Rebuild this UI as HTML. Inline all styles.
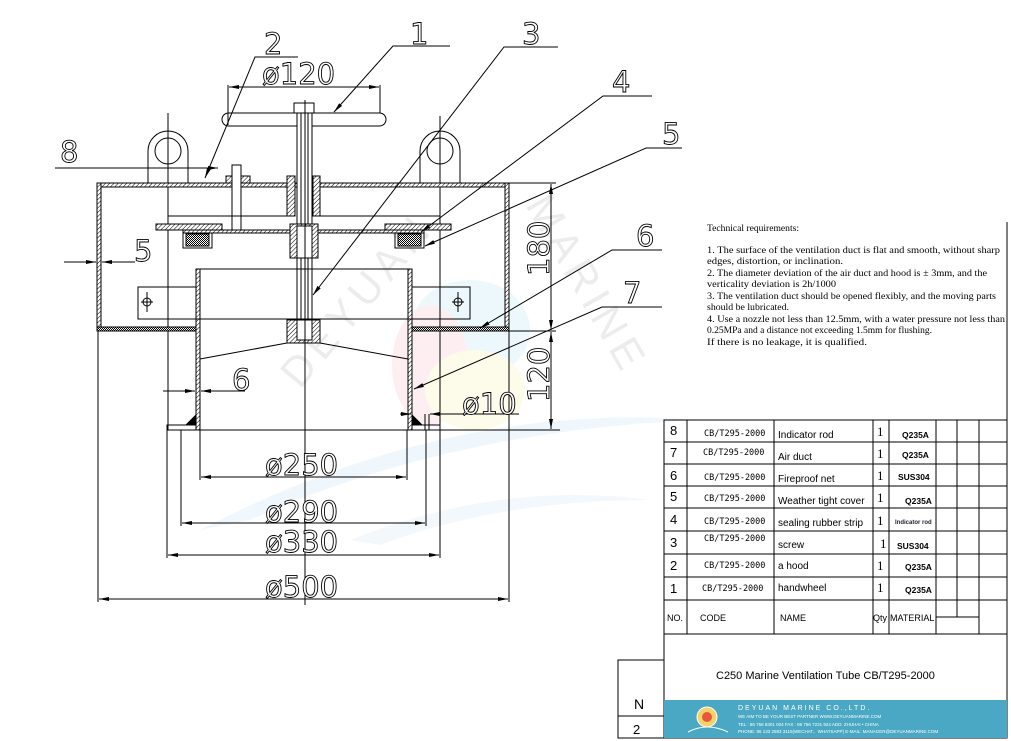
<!DOCTYPE html>
<html><head><meta charset="utf-8"><style>
html,body{margin:0;padding:0;background:#fff;}
svg{display:block;}
.t{font-family:"Liberation Sans",sans-serif;font-weight:normal;}
.tr{font-family:"Liberation Serif",serif;font-size:9px;fill:#000;}
.big{font-family:"DejaVu Sans","Liberation Sans",sans-serif;font-size:29px;fill:#fff;stroke:#000;stroke-width:0.9;}
</style></head><body>
<svg width="1011" height="741" viewBox="0 0 1011 741" xmlns="http://www.w3.org/2000/svg">
<defs>
<pattern id="h" width="3" height="3" patternUnits="userSpaceOnUse" patternTransform="rotate(45)">
<rect width="3" height="3" fill="#fff"/><line x1="0" y1="0" x2="0" y2="3" stroke="#000" stroke-width="1"/></pattern>
<pattern id="m" width="2" height="2" patternUnits="userSpaceOnUse"><rect width="2" height="2" fill="#fff"/><rect width="1" height="1" fill="#000"/><rect x="1" y="1" width="1" height="1" fill="#000"/></pattern>
<marker id="a" viewBox="0 0 10 4" refX="10" refY="2" markerWidth="10" markerHeight="4" orient="auto" markerUnits="userSpaceOnUse"><path d="M0,0 L10,2 L0,4z" fill="#000"/></marker>
<marker id="b" viewBox="0 0 10 4" refX="0" refY="2" markerWidth="10" markerHeight="4" orient="auto" markerUnits="userSpaceOnUse"><path d="M10,0 L0,2 L10,4z" fill="#000"/></marker>
</defs>
<rect width="1011" height="741" fill="#fff"/>
<!-- watermark -->
<g opacity="0.55">
<ellipse cx="470" cy="330" rx="60" ry="50" fill="#dff3fb"/>
<ellipse cx="430" cy="365" rx="38" ry="60" fill="#fde3e6"/>
<ellipse cx="475" cy="390" rx="50" ry="40" fill="#fdf8d8"/>
<path d="M200 530 Q450 400 700 420 Q450 430 250 520z" fill="#e4f2fb"/>
<path d="M350 540 Q500 480 650 500 Q500 500 380 545z" fill="#e8f4fb"/>
</g>
<text x="0" y="0" transform="translate(300,390) rotate(-50)" font-family="Liberation Sans" font-size="42" fill="#ececec" letter-spacing="6">DEYUAN</text>
<text x="0" y="0" transform="translate(525,205) rotate(60)" font-family="Liberation Sans" font-size="42" fill="#ececec" letter-spacing="6">MARINE</text>

<g stroke="#000" stroke-width="1" fill="none">
<path d="M148 183 V151 A20 20 0 0 1 188 151 V183"/><circle cx="168" cy="151" r="13"/>
<path d="M420 183 V151 A20 20 0 0 1 460 151 V183"/><circle cx="440" cy="151" r="13"/>
<line x1="168" y1="113" x2="168" y2="430"/><line x1="440" y1="116" x2="440" y2="430"/>
<rect x="97" y="183" width="412" height="4" fill="url(#h)"/>
<rect x="97" y="183" width="4" height="148" fill="url(#h)"/>
<rect x="505" y="183" width="4" height="148" fill="url(#h)"/>
<rect x="97" y="327" width="100" height="4" fill="url(#m)"/>
<rect x="412" y="327" width="97" height="4" fill="url(#m)"/>
<rect x="226" y="176" width="24" height="7" fill="url(#h)"/>
<rect x="232" y="165" width="9" height="65" fill="#fff"/>
<rect x="222" y="113" width="164" height="13" rx="6.5" fill="#fff"/>
<rect x="294" y="103" width="20" height="10" fill="#fff"/>
<line x1="290" y1="113" x2="318" y2="113"/>
<rect x="297" y="113" width="15" height="230" fill="#fff"/>
<line x1="301" y1="113" x2="301" y2="343"/><line x1="308" y1="113" x2="308" y2="343"/>
<rect x="287" y="176" width="8" height="40" fill="url(#h)"/>
<rect x="313" y="176" width="7" height="40" fill="url(#h)"/>
<line x1="168" y1="216" x2="287" y2="216"/><line x1="320" y1="216" x2="440" y2="216"/>
<rect x="183" y="230" width="241" height="3" fill="url(#h)"/>
<rect x="156" y="224" width="66" height="6" fill="url(#h)"/>
<rect x="385" y="224" width="66" height="6" fill="url(#h)"/>
<path d="M183 233 V248 H212 V233"/><rect x="186" y="234" width="23" height="12" fill="url(#m)"/>
<path d="M395 233 V248 H424 V233"/><rect x="398" y="234" width="23" height="12" fill="url(#m)"/>
<rect x="290" y="224" width="28" height="34" fill="url(#h)"/><rect x="297" y="226" width="15" height="32" fill="#fff"/>
<rect x="196" y="269" width="4" height="161" fill="url(#h)"/>
<rect x="408" y="269" width="4" height="161" fill="url(#h)"/>
<line x1="200" y1="269" x2="408" y2="269"/>
<rect x="138" y="287" width="58" height="32"/><rect x="412" y="287" width="58" height="32"/>
<line x1="138" y1="319" x2="470" y2="319"/>
<circle cx="147" cy="302" r="4"/><line x1="141" y1="302" x2="153" y2="302"/><line x1="147" y1="292" x2="147" y2="312"/>
<circle cx="458" cy="302" r="4"/><line x1="452" y1="302" x2="464" y2="302"/><line x1="458" y1="292" x2="458" y2="312"/>
<rect x="287" y="320" width="33" height="23" fill="url(#h)"/><rect x="297" y="320" width="15" height="20" fill="#fff"/>
<line x1="200" y1="359" x2="287" y2="343"/><line x1="320" y1="343" x2="408" y2="359"/>
<line x1="305" y1="100" x2="305" y2="605"/>
<path d="M167 430 V425 H196 M412 425 H440 V430"/><line x1="167" y1="430" x2="560" y2="430"/>
<path d="M186 425 L196 415 V425z M422 425 L412 415 V425z" fill="#000"/>
<line x1="425" y1="414" x2="425" y2="430"/><line x1="429" y1="414" x2="429" y2="430"/>
<line x1="200" y1="430" x2="200" y2="480"/><line x1="407" y1="430" x2="407" y2="480"/>
<line x1="201" y1="477" x2="406" y2="477" marker-start="url(#b)" marker-end="url(#a)"/>
<line x1="181" y1="430" x2="181" y2="526"/><line x1="426" y1="430" x2="426" y2="526"/>
<line x1="182" y1="523" x2="425" y2="523" marker-start="url(#b)" marker-end="url(#a)"/>
<line x1="167" y1="430" x2="167" y2="558"/><line x1="440" y1="430" x2="440" y2="558"/>
<line x1="168" y1="555" x2="439" y2="555" marker-start="url(#b)" marker-end="url(#a)"/>
<line x1="98" y1="331" x2="98" y2="602"/><line x1="509" y1="331" x2="509" y2="602"/>
<line x1="99" y1="599" x2="508" y2="599" marker-start="url(#b)" marker-end="url(#a)"/>
<line x1="509" y1="183" x2="556" y2="183"/><line x1="509" y1="331" x2="556" y2="331"/>
<line x1="551" y1="184" x2="551" y2="330" marker-start="url(#b)" marker-end="url(#a)"/>
<line x1="551" y1="332" x2="551" y2="429" marker-start="url(#b)" marker-end="url(#a)"/>
<line x1="400" y1="414" x2="411" y2="414" marker-end="url(#a)"/>
<line x1="519" y1="414" x2="430" y2="414" marker-end="url(#a)"/>
<line x1="228" y1="85" x2="228" y2="125"/><line x1="380" y1="85" x2="380" y2="113"/>
<line x1="229" y1="87" x2="379" y2="87" marker-start="url(#b)" marker-end="url(#a)"/>
<line x1="64" y1="262" x2="96" y2="262" marker-end="url(#a)"/><line x1="135" y1="262" x2="102" y2="262" marker-end="url(#a)"/>
<line x1="163" y1="391" x2="195" y2="391" marker-end="url(#a)"/><line x1="245" y1="391" x2="201" y2="391" marker-end="url(#a)"/>
<path d="M450 46 H393 L334 112" marker-end="url(#a)"/>
<path d="M298 57 H255 L205 178" marker-end="url(#a)"/>
<path d="M558 47 H504 L313 295" marker-end="url(#a)"/>
<path d="M652 96 H603 L421 232" marker-end="url(#a)"/>
<path d="M682 148 H646 L425 246" marker-end="url(#a)"/>
<path d="M662 250 H612 L480 328" marker-end="url(#a)"/>
<path d="M662 307 H602 L414 389" marker-end="url(#a)"/>
<path d="M55 168 H218" marker-end="url(#a)"/>
</g>
<g class="big">
<text x="410" y="44">1</text><text x="264" y="54">2</text><text x="522" y="44">3</text>
<text x="612" y="92">4</text><text x="662" y="144">5</text><text x="636" y="246">6</text><text x="623" y="303">7</text>
<text x="60" y="162">8</text><text x="134" y="261">5</text><text x="232" y="390">6</text>
<text x="262" y="84">ø120</text><text x="462" y="414">ø10</text>
<text x="265" y="475">ø250</text><text x="265" y="522">ø290</text><text x="265" y="552">ø330</text><text x="265" y="597">ø500</text>
<text transform="translate(549,276) rotate(-90)">180</text>
<text transform="translate(549,402) rotate(-90)">120</text>
</g>
<g class="tr">
<text x="707" y="231" textLength="92" lengthAdjust="spacingAndGlyphs">Technical requirements:</text>
<text x="707" y="253" textLength="293" lengthAdjust="spacingAndGlyphs">1. The surface of the ventilation duct is flat and smooth, without sharp</text>
<text x="707" y="264" textLength="136" lengthAdjust="spacingAndGlyphs">edges, distortion, or inclination.</text>
<text x="707" y="276" textLength="280" lengthAdjust="spacingAndGlyphs">2. The diameter deviation of the air duct and hood is ± 3mm, and the</text>
<text x="707" y="287" textLength="129" lengthAdjust="spacingAndGlyphs">verticality deviation is 2h/1000</text>
<text x="707" y="299" textLength="289" lengthAdjust="spacingAndGlyphs">3. The ventilation duct should be opened flexibly, and the moving parts</text>
<text x="707" y="310" textLength="82" lengthAdjust="spacingAndGlyphs">should be lubricated.</text>
<text x="707" y="322" textLength="298" lengthAdjust="spacingAndGlyphs">4. Use a nozzle not less than 12.5mm, with a water pressure not less than</text>
<text x="707" y="333" textLength="225" lengthAdjust="spacingAndGlyphs">0.25MPa and a distance not exceeding 1.5mm for flushing.</text>
<text x="707" y="345" textLength="160" lengthAdjust="spacingAndGlyphs">If there is no leakage, it is qualified.</text>
</g>
<g stroke="#000" stroke-width="1" fill="none">
<line x1="1007" y1="222" x2="1007" y2="738"/>
<rect x="664" y="420" width="343" height="318"/>
<line x1="664" y1="442" x2="1007" y2="442"/><line x1="664" y1="464" x2="1007" y2="464"/>
<line x1="664" y1="486" x2="1007" y2="486"/><line x1="664" y1="508" x2="1007" y2="508"/>
<line x1="664" y1="531" x2="1007" y2="531"/><line x1="664" y1="554" x2="1007" y2="554"/>
<line x1="664" y1="577" x2="1007" y2="577"/><line x1="664" y1="600" x2="1007" y2="600"/>
<line x1="664" y1="634" x2="1007" y2="634"/>
<line x1="687" y1="420" x2="687" y2="634"/><line x1="774" y1="420" x2="774" y2="634"/>
<line x1="873" y1="420" x2="873" y2="634"/><line x1="889" y1="420" x2="889" y2="634"/>
<line x1="936" y1="420" x2="936" y2="634"/><line x1="957" y1="420" x2="957" y2="617"/>
<line x1="979" y1="420" x2="979" y2="634"/><line x1="936" y1="617" x2="979" y2="617"/>
<path d="M664 660 H618 V738 H664 M618 716 H664"/>
</g>
<rect x="664" y="700" width="343" height="38" fill="#4aa8c4"/>
<g class="t" font-size="10" fill="#000">
<text x="670" y="435" font-size="13">8</text><text x="670" y="457" font-size="13">7</text><text x="670" y="480" font-size="13">6</text><text x="670" y="501" font-size="13">5</text><text x="670" y="524" font-size="13">4</text><text x="670" y="547" font-size="13">3</text><text x="670" y="570" font-size="13">2</text><text x="670" y="593" font-size="13">1</text>
<g font-size="8.5" font-family="DejaVu Sans Mono,Liberation Mono,monospace">
<text x="704" y="436">CB/T295-2000</text><text x="703" y="455">CB/T295-2000</text><text x="704" y="480">CB/T295-2000</text><text x="704" y="501">CB/T295-2000</text><text x="704" y="524">CB/T295-2000</text><text x="704" y="541">CB/T295-2000</text><text x="704" y="568">CB/T295-2000</text><text x="702" y="591">CB/T295-2000</text></g>
<text x="778" y="438">Indicator rod</text><text x="778" y="460">Air duct</text><text x="778" y="482">Fireproof net</text><text x="778" y="504">Weather tight cover</text><text x="778" y="526">sealing rubber strip</text><text x="778" y="548">screw</text><text x="778" y="569">a hood</text><text x="778" y="591">handwheel</text>
<g font-family="Liberation Serif" font-size="13"><text x="877" y="436">1</text><text x="877" y="458">1</text><text x="877" y="480">1</text><text x="877" y="502">1</text><text x="877" y="525">1</text><text x="880" y="548">1</text><text x="877" y="570">1</text><text x="877" y="592">1</text></g>
<g font-size="8.5" font-weight="bold"><text x="902" y="438">Q235A</text><text x="902" y="458">Q235A</text><text x="898" y="480">SUS304</text><text x="905" y="504">Q235A</text><text x="895" y="524" font-size="6" fill="#223">Indicator rod</text><text x="897" y="549">SUS304</text><text x="905" y="570">Q235A</text><text x="905" y="593">Q235A</text></g>
<text x="667" y="621" font-size="9">NO.</text><text x="700" y="621" font-size="9">CODE</text><text x="780" y="621" font-size="9">NAME</text><text x="873" y="621" font-size="9">Qty</text><text x="890" y="621" font-size="9">MATERIAL</text>
<text x="716" y="679" font-size="11">C250  Marine Ventilation Tube   CB/T295-2000</text>
<text x="634" y="709" font-size="14">N</text><text x="633" y="734" font-size="13">2</text>
<g fill="#fff"><text x="738" y="710" font-size="7" letter-spacing="2">DEYUAN MARINE CO.,LTD.</text>
<text x="738" y="718" font-size="4.5">WE AIM TO BE YOUR BEST PARTNER   WWW.DEYUANMARINE.COM</text>
<text x="738" y="726" font-size="4.5">TEL : 86 756 8301 004        FAX : 86 756 7231 924        ADD: ZHUHAI • CHINA</text>
<text x="738" y="733" font-size="4.5">PHONE: 86 133 2883 3115(WECHAT、WHATSAPP)     E-MAIL: MANAGER@DEYUANMARINE.COM</text></g>
</g>
<circle cx="707" cy="717" r="10" fill="#f5d36a" stroke="#fff"/><circle cx="707" cy="717" r="5" fill="#e8563c"/>
<path d="M688 732 Q707 722 728 732" stroke="#fff" fill="none"/>
</svg>
</body></html>
